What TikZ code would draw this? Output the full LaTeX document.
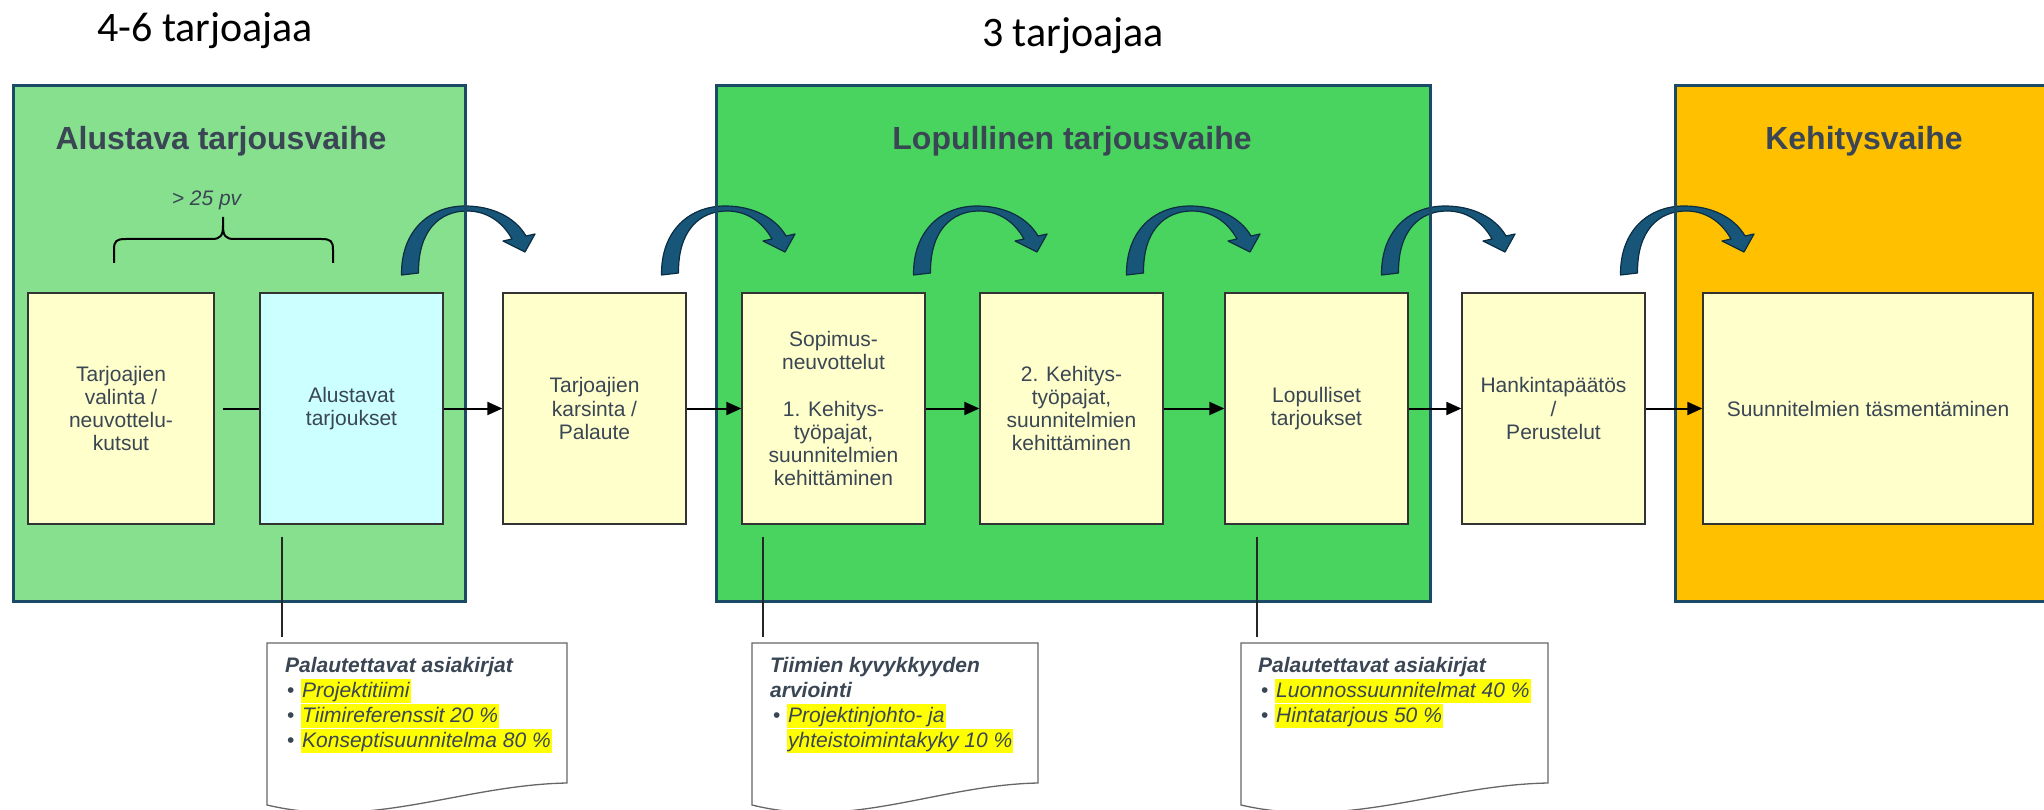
\documentclass[tikz,border=0pt]{standalone}
\usepackage{fontspec}
\setmainfont{Liberation Sans}
\newfontfamily\calibrifont{Carlito}
\usetikzlibrary{arrows.meta,calc}
\definecolor{phaseA}{HTML}{87E08E}
\definecolor{phaseB}{HTML}{48D45E}
\definecolor{phaseC}{HTML}{FFC000}
\definecolor{framec}{HTML}{1A4A66}
\definecolor{boxY}{HTML}{FFFFCC}
\definecolor{boxC}{HTML}{CCFFFF}
\definecolor{txt}{HTML}{3A4654}
\definecolor{arrowfill}{HTML}{175679}
\definecolor{arrowline}{HTML}{0B2D42}
\definecolor{hl}{HTML}{FFFF00}
\begin{document}
\begin{tikzpicture}[x=1pt,y=-1pt,
  phase/.style={fill=#1, draw=none, inner sep=0pt, anchor=north west},
  frameline/.style={draw=framec, line width=3pt},
  stepbox/.style={draw=black!80, line width=1.3pt, fill=boxY, minimum width=183pt, minimum height=231pt, inner sep=2pt, align=center, text=txt, font=\fontsize{21pt}{23.3pt}\selectfont},
  title/.style={font=\bfseries\fontsize{32pt}{36pt}\selectfont, text=txt, anchor=base, inner sep=0pt},
  toplabel/.style={font=\calibrifont\fontsize{42pt}{48pt}\selectfont, anchor=base, inner sep=0pt},
  conn/.style={line width=2pt, -{Triangle[length=15pt,width=13pt]}},
  lead/.style={line width=1.2pt, draw=black!85},
  note/.style={fill=white, draw=black!60, line width=1.3pt},
  notehead/.style={font=\bfseries\itshape\fontsize{21pt}{25pt}\selectfont, text=txt, anchor=base west, inner sep=0pt},
  bul/.style={font=\fontsize{21pt}{25pt}\selectfont, text=txt, anchor=base west, inner sep=0pt},
  item/.style={font=\itshape\fontsize{21pt}{25pt}\selectfont, text=txt, fill=hl, anchor=base west, inner xsep=1pt, inner ysep=0pt, text height=18.5pt, text depth=5.5pt},
  curvarrow/.pic={
    \filldraw[fill=arrowfill, draw=arrowline, line width=1.2pt, line join=round]
      (-8.5,0) .. controls (-9,-45) and (20,-69) .. (55,-69)
      .. controls (82,-69) and (105,-58) .. (116,-39)
      -- (125,-41) -- (115,-23) -- (93,-34) -- (102,-36)
      .. controls (92,-54) and (76,-64) .. (57,-64)
      .. controls (30,-64) and (8,-45) .. (8.5,-2) -- cycle;
  }
]
\useasboundingbox (0,0) rectangle (2044,810);
\clip (0,0) rectangle (2044,810);

% phase backgrounds
\node[phase=phaseA, minimum width=455pt, minimum height=519pt] (P1) at (12,84) {};
\node[phase=phaseB, minimum width=717pt, minimum height=519pt] (P2) at (715,84) {};
\node[phase=phaseC, minimum width=400pt, minimum height=519pt] (P3) at (1674,84) {};

% curved arrows
\pic at (410,275) {curvarrow};
\pic at (670,275) {curvarrow};
\pic at (922,275) {curvarrow};
\pic at (1135,275) {curvarrow};
\pic at (1390,275) {curvarrow};
\pic at (1629,275) {curvarrow};

% phase frames
\draw[frameline] ([shift={(1.5pt,-1.5pt)}]P1.north west) rectangle ([shift={(-1.5pt,1.5pt)}]P1.south east);
\draw[frameline] ([shift={(1.5pt,-1.5pt)}]P2.north west) rectangle ([shift={(-1.5pt,1.5pt)}]P2.south east);
\draw[frameline] ([shift={(1.5pt,-1.5pt)}]P3.north west) rectangle ([shift={(20pt,1.5pt)}]P3.south east);

% titles
\node[toplabel] (L1) at (205,41.5) {4-6 tarjoajaa};
\node[toplabel] (L2) at (1073,47) {3 tarjoajaa};
\node[title] (T1) at (221,150) {Alustava tarjousvaihe};
\node[title] (T2) at (1072,150) {Lopullinen tarjousvaihe};
\node[title] (T3) at (1864,150) {Kehitysvaihe};

% brace
\node[font=\itshape\fontsize{21pt}{25pt}\selectfont, text=txt, anchor=base, inner sep=0pt] (dur) at (206.5,205.6) {> 25 pv};
\draw[line width=2pt, line join=round]
  (114,263) -- (114,250) .. controls (114,241) and (116,239) .. (126,239) -- (212,239)
  .. controls (220,239) and (223,236) .. (223,226) -- (223,217);
\draw[line width=2pt, line join=round]
  (333,263) -- (333,250) .. controls (333,241) and (331,239) .. (321,239) -- (234,239)
  .. controls (226,239) and (223,236) .. (223,226);

% step boxes
\node[stepbox, minimum width=186pt] (A) at (121,408.5) {Tarjoajien\\valinta /\\neuvottelu-\\kutsut};
\node[stepbox, fill=boxC] (B) at (351.5,408.5) {Alustavat\\tarjoukset};
\node[stepbox] (C) at (594.5,408.5) {Tarjoajien\\karsinta /\\Palaute};
\node[stepbox] (D) at (833.5,408.5) {Sopimus-\\neuvottelut\\[23.3pt]1. Kehitys-\\työpajat,\\suunnitelmien\\kehittäminen};
\node[stepbox] (E) at (1071.5,408.5) {2. Kehitys-\\työpajat,\\suunnitelmien\\kehittäminen};
\node[stepbox] (F) at (1316.5,408.5) {Lopulliset\\tarjoukset};
\node[stepbox] (G) at (1553.5,408.5) {Hankintapäätös\\/\\Perustelut};
\node[stepbox, minimum width=330pt] (H) at (1868,408.5) {Suunnitelmien täsmentäminen};

% connectors
\draw[line width=2pt, shorten <=8pt] (A) -- (B);
\draw[conn] (B) -- (C);
\draw[conn] (C) -- (D);
\draw[conn] (D) -- (E);
\draw[conn] (E) -- (F);
\draw[conn] (F) -- (G);
\draw[conn] (G) -- (H);

% notes
\coordinate (N1) at (282,643);
\coordinate (N2) at (763,643);
\coordinate (N3) at (1257,643);
\draw[lead, shorten >=6pt] (B.south -| N1) ++(0,12) -- (N1);
\draw[lead, shorten >=6pt] (D.south -| N2) ++(0,12) -- (N2);
\draw[lead, shorten >=6pt] (F.south -| N3) ++(0,12) -- (N3);

\draw[note] (267,643) -- (567,643) -- (567,783) .. controls (462,785) and (372,830) .. (267,805) -- cycle;
\draw[note] (752,643) -- (1038,643) -- (1038,783) .. controls (938,785) and (852,830) .. (752,805) -- cycle;
\draw[note] (1241,643) -- (1548,643) -- (1548,783) .. controls (1441,785) and (1348,830) .. (1241,805) -- cycle;

\node[notehead] (n1h) at (285,672) {Palautettavat asiakirjat};
\node[bul] (n1b1) at (287,697) {•};
\node[bul] (n1b2) at (287,722) {•};
\node[bul] (n1b3) at (287,747) {•};
\node[item] (n1i1) at (301,697) {Projektitiimi};
\node[item] (n1i2) at (301,722) {Tiimireferenssit 20 \%};
\node[item] (n1i3) at (301,747) {Konseptisuunnitelma 80 \%};

\node[notehead] (n2h1) at (770,672) {Tiimien kyvykkyyden};
\node[notehead] (n2h2) at (770,697) {arviointi};
\node[bul] (n2b1) at (773,722) {•};
\node[item] (n2i1) at (787,722) {Projektinjohto- ja};
\node[item] (n2i2) at (787,747) {yhteistoimintakyky 10 \%};

\node[notehead] (n3h) at (1258,672) {Palautettavat asiakirjat};
\node[bul] (n3b1) at (1261,697) {•};
\node[bul] (n3b2) at (1261,722) {•};
\node[item] (n3i1) at (1275,697) {Luonnossuunnitelmat 40 \%};
\node[item] (n3i2) at (1275,722) {Hintatarjous 50 \%};
\end{tikzpicture}
\end{document}
